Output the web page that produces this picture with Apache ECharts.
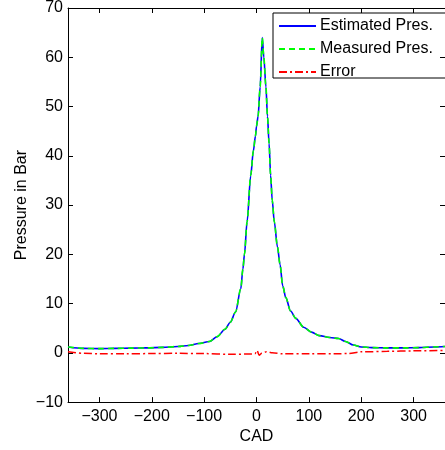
<!DOCTYPE html>
<html>
<head>
<meta charset="utf-8">
<script src="https://cdn.jsdelivr.net/npm/echarts@6/dist/echarts.min.js"></script>
<style>
html,body{margin:0;padding:0;background:#fff;}
#chart{width:445px;height:450px;}
</style>
</head>
<body>
<div id="chart"></div>
<script>
// Crank angle (CAD) sample points
var cad = [-360,-330,-300,-270,-240,-210,-180,-150,-130,-110,-90,-75,-60,-50,-40,-30,-26,-23,-18,-11,-6,-2,0,3,7,11,14,18,21,24,27,30,34,40,45,50,56,65,75,90,105,120,140,157,170,185,200,220,250,280,310,340,360];
var estimated = [1.2,0.9,0.85,0.9,0.95,1.0,1.1,1.3,1.5,1.9,2.3,3.3,4.8,6.2,8.3,13,17,20,26.6,36,41,44,46,48,54,64,60,54,48,42.5,36,31,26.6,21.5,17.9,13.6,11.2,8.5,7,5.2,4.2,3.5,3.1,2.9,2.3,1.6,1.2,1.05,1.0,1.0,1.05,1.2,1.3];
var measured = [1.2,0.9,0.85,0.9,0.95,1.0,1.1,1.3,1.5,1.9,2.3,3.3,4.8,6.2,8.3,13,17,20,26.6,36,41,44,46,48,54,64,60,54,48,42.5,36,31,26.6,21.5,17.9,13.6,11.2,8.5,7,5.2,4.2,3.5,3.1,2.9,2.3,1.6,1.2,1.05,1.0,1.0,1.05,1.2,1.3];
var errCad = [-360,-330,-300,-250,-200,-150,-100,-50,-20,-3,1,5,10,20,30,50,100,150,175,200,250,300,360];
var errVal = [0.2,-0.1,-0.2,-0.2,-0.15,-0.1,-0.15,-0.3,-0.25,-0.2,0.5,-0.5,-0.1,0.25,0.0,-0.2,-0.2,-0.2,-0.15,0.2,0.3,0.4,0.5];
var xTicks = [-300,-200,-100,0,100,200,300];
var yTicks = [-10,0,10,20,30,40,50,60,70];
var seriesNames = ['Estimated Pres.','Measured Pres.','Error'];

function pairs(xs, ys){ return xs.map(function(x,i){ return [x, ys[i]]; }); }
function fmt(v){ return String(v).replace('-', '\u2212'); }

var font = 'Liberation Sans, Arial, Helvetica, sans-serif';
var axisLine = {show:true, onZero:false, lineStyle:{color:'#000', width:1}};
var chart = echarts.init(document.getElementById('chart'), null, {renderer:'canvas'});
chart.setOption({
  animation:false,
  backgroundColor:'#fff',
  textStyle:{fontFamily:font},
  grid:{left:68, top:7, width:379, height:399, containLabel:false},
  graphic:[{type:'rect', shape:{x:273, y:13, width:190, height:65}, style:{fill:'#fff', stroke:'#000', lineWidth:1}, z:0}],
  legend:{
    left:278, top:13, orient:'vertical', padding:[5,0,5,0],
    itemWidth:37, itemHeight:14, itemGap:7, itemStyle:{opacity:0},
    textStyle:{fontSize:16, color:'#000', fontFamily:font, padding:[0,0,0,-1]},
    data:seriesNames, z:10
  },
  xAxis:[{
    type:'value', min:-360, max:360, position:'bottom',
    axisLine:axisLine, splitLine:{show:false},
    axisTick:{inside:true, length:5, customValues:xTicks, lineStyle:{color:'#000'}},
    axisLabel:{customValues:xTicks, formatter:fmt, fontSize:16, color:'#000', margin:6, fontFamily:font},
    name:'CAD', nameLocation:'middle', nameGap:25,
    nameTextStyle:{fontSize:16, color:'#000', fontFamily:font}
  },{
    type:'value', min:-360, max:360, position:'top',
    axisLine:axisLine, splitLine:{show:false},
    axisTick:{inside:true, length:5, customValues:xTicks, lineStyle:{color:'#000'}},
    axisLabel:{show:false}
  }],
  yAxis:[{
    type:'value', min:-10, max:70, interval:10, position:'left',
    axisLine:axisLine, splitLine:{show:false},
    axisTick:{inside:true, length:5, lineStyle:{color:'#000'}},
    axisLabel:{formatter:fmt, fontSize:16, color:'#000', margin:5, fontFamily:font},
    name:'Pressure in Bar', nameLocation:'middle', nameGap:38, nameRotate:90, nameMoveOverlap:false,
    nameTextStyle:{fontSize:16, color:'#000', fontFamily:font}
  },{
    type:'value', min:-10, max:70, interval:10, position:'right',
    axisLine:axisLine, splitLine:{show:false},
    axisTick:{inside:true, length:5, lineStyle:{color:'#000'}},
    axisLabel:{show:false}
  }],
  series:[{
    name:seriesNames[0], type:'line', data:pairs(cad, estimated), showSymbol:false, symbol:'none',
    smooth:0.3, smoothMonotone:'x', lineStyle:{color:'#0000ff', width:1.6, type:'solid'}, itemStyle:{color:'#0000ff'}, z:2
  },{
    name:seriesNames[1], type:'line', data:pairs(cad, measured), showSymbol:false, symbol:'none',
    smooth:0.3, smoothMonotone:'x', lineStyle:{color:'#00ff00', width:1.6, type:[6,4]}, itemStyle:{color:'#00ff00'}, z:3
  },{
    name:seriesNames[2], type:'line', data:pairs(errCad, errVal), showSymbol:false, symbol:'none',
    smooth:0.3, smoothMonotone:'x', lineStyle:{color:'#ff0000', width:1.5, type:[8,3,2,3]}, itemStyle:{color:'#ff0000'}, z:4
  }]
});
</script>
</body>
</html>
